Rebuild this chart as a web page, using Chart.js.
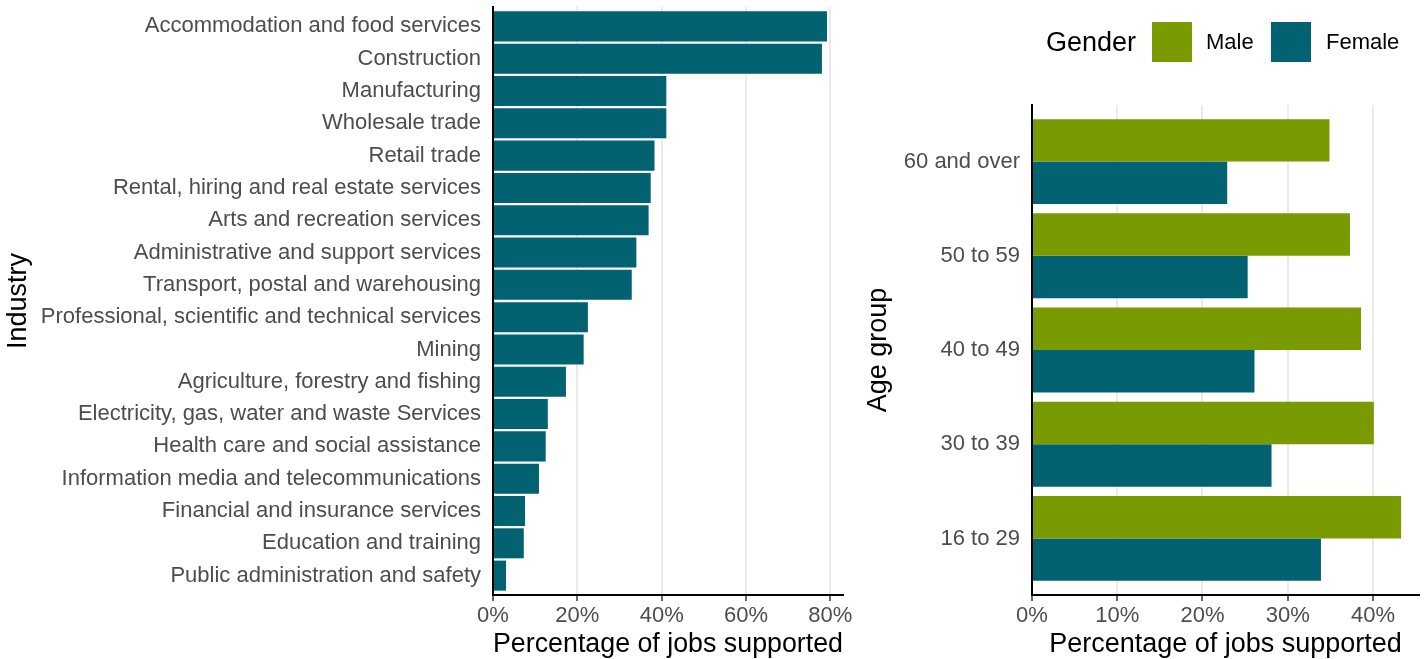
<!DOCTYPE html>
<html>
<head>
<meta charset="utf-8">
<script src="https://cdn.jsdelivr.net/npm/chart.js@4/dist/chart.umd.min.js"></script>
<style>
  html, body { margin:0; padding:0; background:#fff; }
  body { width:1427px; height:659px; position:relative; overflow:hidden; font-family:"Liberation Sans", Arial, sans-serif; }
  #c1 { position:absolute; left:0; top:0; }
  #c2 { position:absolute; left:860px; top:0; }
  .lg { position:absolute; white-space:nowrap; line-height:40px; height:40px; top:22px; }
  .sw { position:absolute; width:40px; height:40px; top:22px; }
</style>
</head>
<body>
<canvas id="c1" width="860" height="659"></canvas>
<canvas id="c2" width="567" height="659"></canvas>
<div class="lg" id="lgTitle" style="left:1046px; font-size:27px; color:#000;">Gender</div>
<div class="sw" id="swMale" style="left:1152px;"></div>
<div class="lg" id="lbMale" style="left:1206px; font-size:22px; color:#000;"></div>
<div class="sw" id="swFemale" style="left:1271px;"></div>
<div class="lg" id="lbFemale" style="left:1326px; font-size:22px; color:#000;"></div>
<script>
// ---- Data ----
const industries = [
  "Accommodation and food services",
  "Construction",
  "Manufacturing",
  "Wholesale trade",
  "Retail trade",
  "Rental, hiring and real estate services",
  "Arts and recreation services",
  "Administrative and support services",
  "Transport, postal and warehousing",
  "Professional, scientific and technical services",
  "Mining",
  "Agriculture, forestry and fishing",
  "Electricity, gas, water and waste Services",
  "Health care and social assistance",
  "Information media and telecommunications",
  "Financial and insurance services",
  "Education and training",
  "Public administration and safety"
];
const industryValues = [79.2, 78.0, 41.1, 41.1, 38.3, 37.4, 36.9, 34.0, 32.9, 22.5, 21.5, 17.3, 13.0, 12.5, 10.9, 7.6, 7.3, 3.1];

const ageGroups = ["60 and over", "50 to 59", "40 to 49", "30 to 39", "16 to 29"];
const maleValues = [34.9, 37.3, 38.6, 40.1, 43.3];
const femaleValues = [22.9, 25.3, 26.1, 28.1, 33.9];

const seriesNames = ["Male", "Female"];
const leftTicks = [0, 20, 40, 60, 80];
const rightTicks = [0, 10, 20, 30, 40];

const TEAL = "#026272";
const GREEN = "#7A9A01";
const FONT = "'Liberation Sans', Arial, sans-serif";

document.getElementById("swMale").style.background = GREEN;
document.getElementById("swFemale").style.background = TEAL;
document.getElementById("lbMale").textContent = seriesNames[0];
document.getElementById("lbFemale").textContent = seriesNames[1];

function zeroPad(s) { s.paddingTop = 0; s.paddingBottom = 0; s.paddingLeft = 0; s.paddingRight = 0; }

function xScale(max, ticksArr) {
  return {
    type: "linear",
    min: 0, max: max,
    afterBuildTicks: (s) => { s.ticks = ticksArr.map(v => ({ value: v })); },
    afterFit: (s) => { s.height = 64; zeroPad(s); },
    ticks: { color: "#4d4d4d", font: { family: FONT, size: 22 }, padding: 2, callback: v => v + "%" },
    grid: { color: "#ebebeb", lineWidth: 2, drawTicks: true, tickLength: 6, tickColor: "#333", tickWidth: 1.5 },
    border: { display: true, color: "#000", width: 2 },
    title: { display: true, text: "Percentage of jobs supported", color: "#000", font: { family: FONT, size: 27 }, padding: { top: 0, bottom: -2 } }
  };
}
function yScale(width, titleText, expand) {
  return {
    type: "category",
    afterBuildTicks: (s) => { s._startValue -= expand; s._valueRange += 2 * expand; },
    afterFit: (s) => { s.width = width; zeroPad(s); },
    ticks: { color: "#4d4d4d", font: { family: FONT, size: 22 }, padding: 12, autoSkip: false },
    grid: { drawOnChartArea: false, drawTicks: false, offset: false },
    border: { display: true, color: "#000", width: 2 },
    title: { display: true, text: titleText, color: "#000", font: { family: FONT, size: 27 }, padding: { top: 2, bottom: 0 } }
  };
}

new Chart(document.getElementById("c1"), {
  type: "bar",
  data: {
    labels: industries,
    datasets: [{ label: "Percentage", data: industryValues, backgroundColor: TEAL, categoryPercentage: 1, barPercentage: 0.93 }]
  },
  options: {
    indexAxis: "y",
    responsive: false,
    animation: false,
    layout: { padding: { left: 0, right: 17, top: 7, bottom: 0 } },
    plugins: { legend: { display: false }, tooltip: { enabled: false } },
    scales: { x: xScale(83, leftTicks), y: yScale(493, "Industry", 0.1) }
  }
});

new Chart(document.getElementById("c2"), {
  type: "bar",
  data: {
    labels: ageGroups,
    datasets: [
      { label: seriesNames[0], data: maleValues, backgroundColor: GREEN, categoryPercentage: 0.9, barPercentage: 1 },
      { label: seriesNames[1], data: femaleValues, backgroundColor: TEAL, categoryPercentage: 0.9, barPercentage: 1 }
    ]
  },
  options: {
    indexAxis: "y",
    responsive: false,
    animation: false,
    layout: { padding: { left: 0, right: 8, top: 105, bottom: 0 } },
    plugins: { legend: { display: false }, tooltip: { enabled: false } },
    scales: { x: xScale(45.4, rightTicks), y: yScale(172, "Age group", 0.1) }
  }
});
</script>
</body>
</html>
